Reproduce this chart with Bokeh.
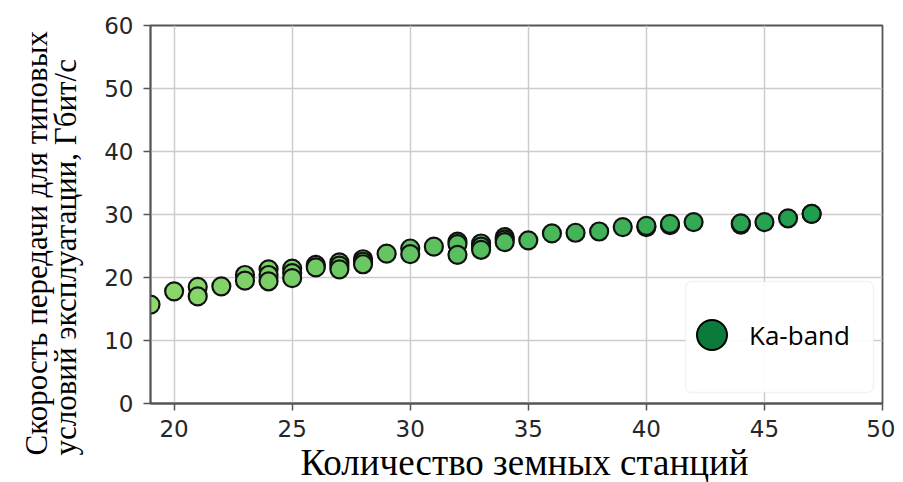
import math
from bokeh.plotting import figure
from bokeh.models import (ColumnDataSource, Legend, LegendItem, Title, BoxAnnotation,
                          LinearColorMapper, FixedTicker, Range1d)
from bokeh.embed import file_html
from bokeh.resources import INLINE

# ---- data ----
stations = [19, 20, 21, 21, 22, 23, 23, 24, 24, 24, 25, 25, 25, 26, 26,
            27, 27, 27, 28, 28, 28, 29, 30, 30, 31, 32, 32, 32, 33, 33, 33,
            34, 34, 34, 35, 36, 37, 38, 39, 40, 40, 41, 41, 42, 44, 44,
            45, 46, 47]
rates = [15.7, 17.8, 18.5, 17.0, 18.6, 20.4, 19.5, 21.3, 20.4, 19.4, 21.4, 20.7, 19.9, 22.0, 21.6,
         22.4, 21.9, 21.3, 22.9, 22.5, 22.1, 23.8, 24.6, 23.7, 24.9, 25.7, 25.3, 23.6, 25.4, 24.9, 24.4,
         26.4, 26.0, 25.6, 25.9, 27.0, 27.1, 27.3, 28.0, 28.0, 28.2, 28.3, 28.5, 28.8, 28.4, 28.6,
         28.8, 29.4, 30.1]
x_ticks = [20, 25, 30, 35, 40, 45, 50]
y_ticks = [0, 10, 20, 30, 40, 50, 60]
series_name = "Ka-band"
x_title = "Количество земных станций"
y_title_lines = ["Скорость передачи для типовых", "условий эксплуатации, Гбит/с"]

# ---- colour ramp (light green -> green) ----
def hex2rgb(h):
    h = h.lstrip("#")
    return [int(h[i:i + 2], 16) for i in (0, 2, 4)]

anchors = [hex2rgb(c) for c in ("#8fd86c", "#55bd5e", "#1f9e4f")]
palette = []
N = 64
for i in range(N):
    t = i / (N - 1) * (len(anchors) - 1)
    k = min(int(t), len(anchors) - 2)
    f = t - k
    c = [round(anchors[k][j] + (anchors[k + 1][j] - anchors[k][j]) * f) for j in range(3)]
    palette.append("#%02x%02x%02x" % tuple(c))
mapper = LinearColorMapper(palette=palette, low=min(stations), high=max(stations))

source = ColumnDataSource(dict(x=stations, y=rates))

p = figure(width=895, height=482, x_range=Range1d(19, 50), y_range=Range1d(0, 60),
           output_backend="svg", toolbar_location=None,
           min_border_left=150, min_border_right=13, min_border_top=25, min_border_bottom=78)
p.background_fill_color = "white"
p.border_fill_color = "white"
p.outline_line_color = "#555555"
p.outline_line_width = 1.8

for ax in (p.xaxis[0], p.yaxis[0]):
    ax.axis_line_color = "#555555"
    ax.axis_line_width = 1.8
    ax.major_tick_line_color = "#555555"
    ax.major_tick_line_width = 1.5
    ax.major_tick_out = 7
    ax.major_tick_in = 0
    ax.minor_tick_line_color = None
    ax.major_label_text_font = "DejaVu Sans"
    ax.major_label_text_font_size = "23px"
    ax.major_label_text_color = "#262626"
p.xaxis.ticker = FixedTicker(ticks=x_ticks)
p.yaxis.ticker = FixedTicker(ticks=y_ticks)
p.xaxis.major_label_standoff = 9
p.yaxis.major_label_standoff = 10

p.xgrid.ticker = FixedTicker(ticks=x_ticks)
p.ygrid.ticker = FixedTicker(ticks=y_ticks)
p.grid.grid_line_color = "#cccccc"
p.grid.grid_line_width = 1.5

# legend stand-in glyph (drawn first, hidden under the last data point)
legend_src = ColumnDataSource(dict(x=stations[-1:], y=rates[-1:]))
dummy = p.scatter("x", "y", source=legend_src, size=18, marker="circle",
                  fill_color="#0b7a3b", line_color="black", line_width=2)

p.scatter("x", "y", source=source, size=18, marker="circle",
          fill_color={"field": "x", "transform": mapper},
          line_color="#111111", line_width=2.2)

# legend frame
box = BoxAnnotation(left=535, right=723, bottom=11, top=122,
                    left_units="screen", right_units="screen",
                    bottom_units="screen", top_units="screen",
                    fill_color="white", fill_alpha=0.9,
                    line_color="#d6d6d6", line_width=1.5, border_radius=6)
p.add_layout(box)

legend = Legend(items=[LegendItem(label=series_name, renderers=[dummy])],
                location=(524, 31), margin=0, padding=0,
                glyph_width=75, glyph_height=75, label_height=75, label_standoff=0,
                label_text_font="Open Sans", label_text_font_size="26px",
                label_text_color="black",
                border_line_alpha=0, background_fill_alpha=0)
p.add_layout(legend)

# axis titles
xt = Title(text=x_title, align="left", offset=150, standoff=0, vertical_align="bottom",
           text_font="Liberation Serif", text_font_size="37px", text_font_style="normal",
           text_color="black")
p.add_layout(xt, "below")
yt = Title(text="\n".join(y_title_lines), align="left", offset=-52, standoff=34,
           vertical_align="top", text_line_height=0.84,
           text_font="Liberation Serif", text_font_size="31px", text_font_style="normal",
           text_color="black")
p.add_layout(yt, "left")

open("out.html", "w").write(file_html(p, INLINE))
